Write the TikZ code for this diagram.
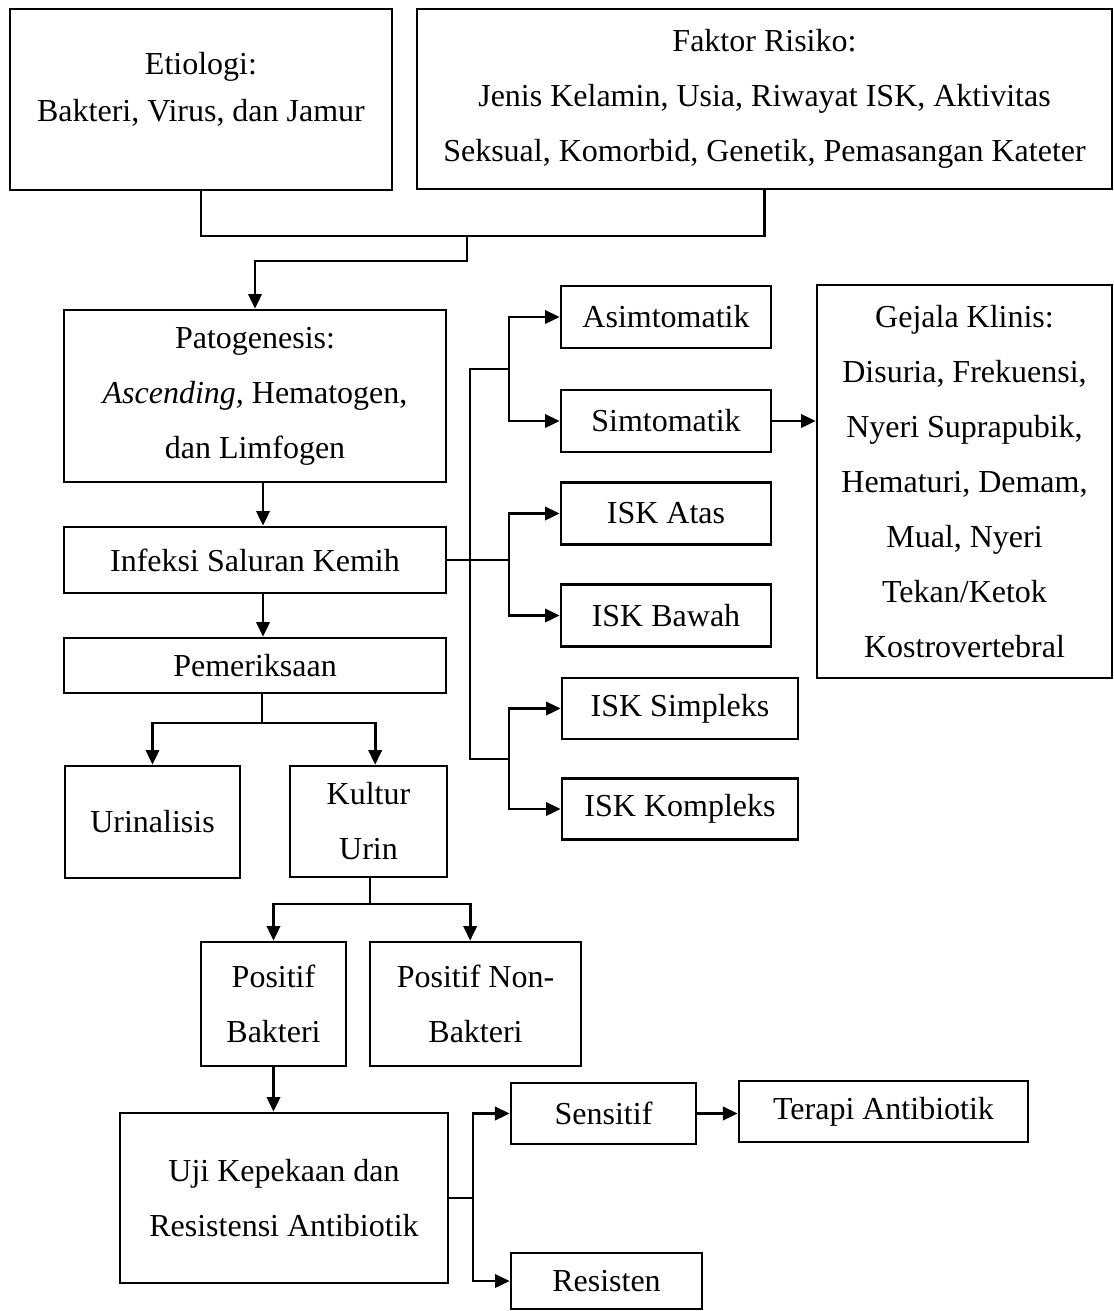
\documentclass[tikz,border=0pt]{standalone}
\usepackage{fontspec}
\setmainfont{Liberation Serif}
\usetikzlibrary{arrows.meta}

\tikzset{
        box/.style={draw=black, line width=1pt, inner sep=0pt, align=center,
                    font=\fontsize{12}{20.6}\selectfont},
        link/.style={line width=1pt},
        arr/.style={link, -{Triangle[length=5.5pt,width=5pt]}}
}

\begin{document}
\begin{tikzpicture}[x=0.375pt, y=-0.375pt]
        \useasboundingbox (0,0) rectangle (1114,1311);

        \node[box, minimum width=143.25pt, minimum height=67.9pt] (etio) at (201,99.5)
                {Etiologi:\\[-3pt]Bakteri, Virus, dan Jamur\\[-11pt]\mbox{}};
        \node[box, minimum width=260.6pt, minimum height=67.5pt] (faktor) at (764.5,99)
                {Faktor Risiko:\\Jenis Kelamin, Usia, Riwayat ISK, Aktivitas\\Seksual, Komorbid, Genetik, Pemasangan Kateter};

        \node[box, minimum width=143.25pt, minimum height=64.5pt] (pato) at (255,396)
                {Patogenesis:\\\textit{Ascending,} Hematogen,\\dan Limfogen};
        \node[box, minimum width=143.25pt, minimum height=24.75pt] (isk) at (255,560) {Infeksi Saluran Kemih};
        \node[box, minimum width=143.25pt, minimum height=20.6pt] (periksa) at (255,665.5) {Pemeriksaan};
        \node[box, minimum width=65.6pt, minimum height=42pt] (urin) at (152.5,822) {Urinalisis};
        \node[box, minimum width=58.9pt, minimum height=41.6pt] (kultur) at (368.5,821.5) {Kultur\\Urin};
        \node[box, minimum width=54.4pt, minimum height=46.5pt] (posbak) at (273.5,1004) {Positif\\Bakteri};
        \node[box, minimum width=79.1pt, minimum height=46.5pt] (posnon) at (475.5,1004) {Positif Non-\\Bakteri};
        \node[box, minimum width=123pt, minimum height=63.75pt] (uji) at (284,1198)
                {Uji Kepekaan dan\\Resistensi Antibiotik};
        \node[box, minimum width=69.4pt, minimum height=22.9pt] (sensitif) at (603.5,1113.5) {Sensitif};
        \node[box, minimum width=108.4pt, minimum height=22.9pt] (terapi) at (883.5,1111.5) {Terapi Antibiotik};
        \node[box, minimum width=71.6pt, minimum height=21pt] (resisten) at (606.5,1281) {Resisten};

        \node[box, minimum width=78.75pt, minimum height=23.25pt] (asim) at (666,317) {Asimtomatik};
        \node[box, minimum width=78.75pt, minimum height=23.25pt] (simto) at (666,421) {Simtomatik};
        \node[box, minimum width=78.75pt, minimum height=23.25pt] (atas) at (666,513.5) {ISK Atas};
        \node[box, minimum width=78.75pt, minimum height=23.25pt] (bawah) at (666,615.5) {ISK Bawah};
        \node[box, minimum width=88.5pt, minimum height=22.9pt] (simpleks) at (680,708.5) {ISK Simpleks};
        \node[box, minimum width=88.5pt, minimum height=22.9pt] (kompleks) at (680,809) {ISK Kompleks};
        \node[box, minimum width=110.6pt, minimum height=147.4pt] (gejala) at (964.5,481.5)
                {Gejala Klinis:\\Disuria, Frekuensi,\\Nyeri Suprapubik,\\Hematuri, Demam,\\Mual, Nyeri\\Tekan/Ketok\\Kostrovertebral};

        \coordinate (merge) at (467,236);
        \coordinate (hub) at (470,560);
        \coordinate (forkA) at (509,369);
        \coordinate (forkB) at (509,560);
        \coordinate (forkC) at (509,759);
        \coordinate (forkP) at (262,723);
        \coordinate (forkK) at (370,904);
        \coordinate (forkU) at (473,1198);

        \draw[link] (etio.south) |- (merge) -| (faktor.south);
        \draw[arr] (merge) -- ++(0,25) -| (pato.north);
        \draw[arr] ([xshift=3pt]pato.south) -- ([xshift=3pt]isk.north);
        \draw[arr] ([xshift=3pt]isk.south) -- ([xshift=3pt]periksa.north);

        \draw[link] (periksa.south -| forkP) -- (forkP);
        \draw[arr] (forkP) -| (urin.north);
        \draw[arr] (forkP) -| ([xshift=2.5pt]kultur.north);
        \draw[link] (kultur.south -| forkK) -- (forkK);
        \draw[arr] (forkK) -| (posbak.north);
        \draw[arr] (forkK) -| ([xshift=-2pt]posnon.north);
        \draw[arr] (posbak.south) -- (posbak.south |- uji.north);

        \draw[link] (uji.east) -- (forkU);
        \draw[arr] (forkU) |- (sensitif.west);
        \draw[arr] (forkU) |- (resisten.west);
        \draw[arr] (sensitif.east) -- (sensitif.east -| terapi.west);

        \draw[link] (isk.east) -- (forkB);
        \draw[link] (forkA) -- (forkA -| hub) -- (forkC -| hub) -- (forkC);
        \draw[arr] (forkA) |- (asim.west);
        \draw[arr] (forkA) |- (simto.west);
        \draw[arr] (forkB) |- (atas.west);
        \draw[arr] (forkB) |- (bawah.west);
        \draw[arr] (forkC) |- (simpleks.west);
        \draw[arr] (forkC) |- (kompleks.west);
        \draw[arr] (simto.east) -- (simto.east -| gejala.west);
\end{tikzpicture}
\end{document}
